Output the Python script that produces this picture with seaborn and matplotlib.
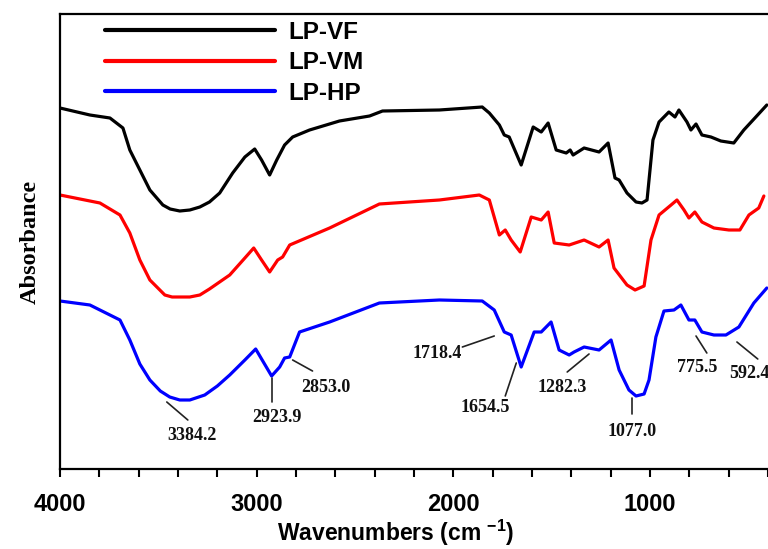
import matplotlib
matplotlib.use("Agg")
import matplotlib.pyplot as plt
from matplotlib.ticker import MultipleLocator, NullLocator
import numpy as np
import pandas as pd
import seaborn as sns

# ---- data (wavenumber cm-1, absorbance a.u.) ----
vf_wn = [4000, 3848, 3746, 3680, 3645, 3594, 3543, 3477, 3440, 3391, 3340, 3289, 3240, 3188,
         3122, 3060, 3010, 2975,
         2934, 2898, 2858, 2817, 2731, 2579, 2426, 2360, 2071, 1853, 1817, 1766, 1741, 1716,
         1655, 1594, 1553, 1518, 1477, 1426, 1406, 1391, 1335, 1259, 1213, 1178, 1157, 1117,
         1071, 1041, 1015, 985, 954, 904, 873, 853, 812, 792, 766, 736, 690, 640, 574, 523,
         462, 406]
vf_abs = [361, 354, 351, 341, 319, 299, 279, 264, 260, 258, 259, 262, 267, 276,
          296, 312, 320, 309,
          294, 309, 324, 332, 339, 348, 353, 358, 359, 362, 356, 344, 334, 332,
          304, 342, 337, 346, 319, 316, 319, 314, 321, 317, 326, 291, 289, 276,
          267, 266, 269, 329, 347, 357, 352, 359, 347, 339, 345, 334, 332, 328, 326, 339,
          352, 364]

vm_wn = [4000, 3797, 3695, 3645, 3594, 3543, 3467, 3430, 3391, 3340, 3289, 3240, 3137, 3060,
         3015, 2975, 2934, 2893,
         2868, 2832, 2629, 2376, 2071, 1868, 1817, 1766, 1736, 1706, 1660, 1604, 1553, 1518,
         1487, 1411, 1335, 1259, 1213, 1183, 1117, 1076, 1030, 995, 954, 893, 863, 827, 802,
         772, 736, 675, 599, 543, 497, 447, 421]
vm_abs = [274, 266, 254, 236, 209, 189, 174, 172, 172, 172, 174, 180, 194, 211,
          221, 209, 197, 209,
          212, 224, 241, 265, 269, 274, 269, 234, 239, 229, 217, 252, 249, 257,
          226, 224, 229, 222, 229, 201, 184, 179, 183, 229, 254, 264, 269, 259, 251,
          257, 247, 241, 239, 239, 254, 261, 273]

hp_wn = [4000, 3848, 3695, 3645, 3594, 3543, 3490, 3442, 3391, 3340, 3264, 3200, 3137, 3060,
         3005, 2924, 2883, 2858, 2832,
         2782, 2629, 2376, 2071, 1853, 1792, 1741, 1706, 1655, 1589, 1553, 1503, 1462, 1411,
         1386, 1335, 1259, 1198, 1157, 1107, 1071, 1030, 1005, 970, 929, 878, 843, 802, 772,
         736, 675, 614, 548, 472, 406]
hp_abs = [168, 164, 149, 129, 105, 89, 78, 72, 69, 69, 74, 83, 94, 109,
          120, 93, 102, 111, 112,
          137, 147, 166, 169, 168, 159, 137, 134, 102, 137, 137, 147, 119, 114,
          117, 122, 119, 129, 99, 79, 73, 75, 89, 132, 158, 159, 164, 149, 149,
          137, 134, 134, 142, 166, 181]

samples = ["LP-VF", "LP-VM", "LP-HP"]
colors = ["#000000", "#ff0000", "#0000ff"]

# peak labels on LP-HP: label, line start (wn, abs), line end (wn, abs), text centre (wn, abs)
peak_labels = ["3384.2", "2923.9", "2853.0", "1718.4", "1654.5", "1282.3", "1077.0", "775.5", "592.4"]
line_start_wn = [3457, 2924, 2817, 1792, 1680, 1310, 1091, 766, 558]
line_start_abs = [67, 91, 109, 133, 106, 115, 71, 133, 127]
line_end_wn = [3350, 2924, 2716, 1954, 1736, 1421, 1091, 711, 452]
line_end_abs = [49, 67, 98, 122, 73, 97, 55, 116, 110]
text_wn = [3330, 2898, 2650, 2081, 1838, 1447, 1091, 761, 497]
text_abs = [34, 52, 82, 116, 61, 82, 37, 101, 96]

# ---- build long table ----
frames = []
for name, wn, ab in zip(samples, [vf_wn, vm_wn, hp_wn], [vf_abs, vm_abs, hp_abs]):
    frames.append(pd.DataFrame({"Wavenumber": wn, "Absorbance": ab, "Sample": name}))
df = pd.concat(frames, ignore_index=True)

sns.set_style("white")
plt.rcParams["font.family"] = ["Liberation Sans", "DejaVu Sans"]
plt.rcParams["mathtext.fontset"] = "custom"
plt.rcParams["mathtext.rm"] = "Liberation Sans:bold"
plt.rcParams["mathtext.it"] = "Liberation Sans:bold"
plt.rcParams["mathtext.bf"] = "Liberation Sans:bold"
plt.rcParams["text.color"] = "black"
plt.rcParams["axes.labelcolor"] = "black"
plt.rcParams["xtick.color"] = "black"

fig = plt.figure(figsize=(7.68, 5.49), dpi=100)
ax = fig.add_axes([60 / 768, 1 - 469 / 549, 708 / 768, 455 / 549])

sns.lineplot(data=df, x="Wavenumber", y="Absorbance", hue="Sample", hue_order=samples,
             palette=dict(zip(samples, colors)), sort=False, estimator=None,
             linewidth=2.3, ax=ax)

ax.set_xlim(4000, 400)
ax.set_ylim(0, 455)
ax.xaxis.set_major_locator(MultipleLocator(1000))
ax.xaxis.set_minor_locator(MultipleLocator(200))
ax.yaxis.set_major_locator(NullLocator())
ax.tick_params(axis="x", which="both", direction="out", length=6, width=1.5,
               bottom=True, top=False, labelsize=17, pad=11, colors="black")
for lab in ax.get_xticklabels():
    lab.set_fontweight("bold")

for side in ["left", "bottom", "top"]:
    ax.spines[side].set_linewidth(1.6)
    ax.spines[side].set_color("black")
ax.spines["right"].set_visible(False)

ax.set_xlabel("Wavenumbers (cm $^{-1}$)", fontsize=16.5, fontweight="bold", color="black")
ax.xaxis.set_label_coords((396 - 60) / 708, (469 - 518) / 455)
ax.set_ylabel("Absorbance", fontsize=17.5, fontweight="bold", color="black",
              family=["Liberation Serif", "DejaVu Serif"], labelpad=14)

# peak annotations
for lab, x0, y0, x1, y1, tx, ty in zip(peak_labels, line_start_wn, line_start_abs,
                                        line_end_wn, line_end_abs, text_wn, text_abs):
    ax.plot([x0, x1], [y0, y1], color="#222222", lw=1.2, clip_on=False)
    ax.text(tx, ty, lab, ha="center", va="center", fontsize=13, fontweight="bold",
            family=["Liberation Serif", "DejaVu Serif"], color="#111111", clip_on=False)

leg = ax.legend(loc="upper left", bbox_to_anchor=(45 / 708, 1 - 7 / 455), frameon=False,
                fontsize=17.5, handlelength=7.0, handletextpad=0.55, labelspacing=0.3,
                borderaxespad=0, borderpad=0, title=None)
for t in leg.get_texts():
    t.set_fontweight("bold")
    t.set_color("black")
for h in leg.get_lines():
    h.set_linewidth(3)

fig.savefig("out.png", dpi=100)
